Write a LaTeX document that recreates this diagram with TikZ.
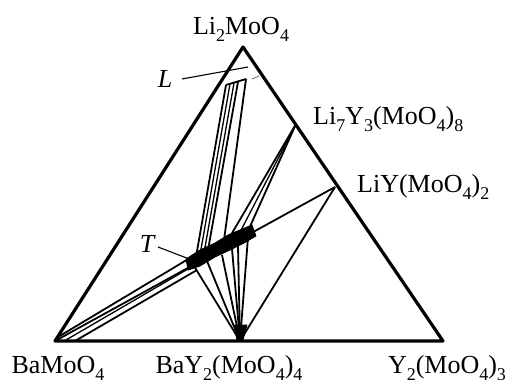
\documentclass[tikz,border=0pt]{standalone}
\usepackage{fontspec}
\setmainfont{Liberation Serif}
\newcommand\sbs[1]{\raisebox{-0.28em}{\fontsize{18}{20}\selectfont #1}}
\begin{document}
\begin{tikzpicture}[x=1pt,y=-1pt,
  edge/.style={line width=3.2pt,line join=round,line cap=round},
  tie/.style={line width=1.8pt},
  thin tie/.style={line width=1.3pt},
  leader/.style={line width=1.1pt},
  lbl/.style={font=\fontsize{26}{30}\selectfont, inner sep=0pt, anchor=base},
  blobfill/.style={fill=black, draw=black, line width=0.8pt, line join=round}]
\useasboundingbox (0,0) rectangle (519,383);
% main points
\coordinate (A) at (243,47);
\coordinate (B) at (55,341);
\coordinate (C) at (443,341);
\coordinate (D) at (240,341);
\coordinate (E) at (296,124);
\coordinate (F) at (335,187);
\coordinate (T) at (197,262);
% triangle
\draw[edge] (A) -- (B) -- (C) -- cycle;
% blob around T
\path[blobfill] (186,259) -- (200,250) -- (215,243) -- (228,235) -- (240,230) -- (252,225)
  -- (256,236) -- (244,243) -- (230,250) -- (215,257) -- (200,266) -- (188,270) -- cycle;
% blob at D
\path[blobfill] (234,325) -- (247,325) -- (243,340) -- (237,340) -- cycle;
% B - F line and bundle from BaMoO4
\draw[tie] (B) -- (F);
\coordinate (b1) at (58,337); \coordinate (t1) at (190,258);
\coordinate (b2) at (66,340); \coordinate (t2) at (193,266);
\coordinate (b3) at (75,341); \coordinate (t3) at (197,270);
\draw[tie] (b1) -- (t1);
\draw[thin tie] (b2) -- (t2);
\draw[tie] (b3) -- (t3);
% D - F line
\draw[tie] (D) -- (F);
% lines from Li7Y3(MoO4)8
\coordinate (e1) at (228,240); \coordinate (e2) at (238,236); \coordinate (e3) at (248,231);
\draw[tie] (E) -- (e1);
\draw[thin tie] (E) -- (e2);
\draw[tie] (E) -- (e3);
% narrow bundle towards Li2MoO4 (L region)
\coordinate (l1) at (226,85); \coordinate (m1) at (196,257);
\coordinate (l2) at (230,84); \coordinate (m2) at (200,255);
\coordinate (l3) at (234,83); \coordinate (m3) at (204,253);
\coordinate (l4) at (238,82); \coordinate (m4) at (208,250);
\coordinate (l5) at (246,79); \coordinate (m5) at (224,240);
\draw[tie] (l1) -- (l5);
\draw[tie] (l1) -- (m1);
\draw[thin tie] (l2) -- (m2);
\draw[thin tie] (l3) -- (m3);
\draw[tie] (l4) -- (m4);
\draw[tie] (l5) -- (m5);
% fan from BaY2(MoO4)4
\coordinate (f1) at (194,266);
\coordinate (f2) at (207,261);
\coordinate (f3) at (222,255);
\coordinate (f4) at (232,249);
\coordinate (f5) at (238,246);
\coordinate (f6) at (248,237);
\foreach \f in {f1,f2,f3,f4,f5,f6} \draw[tie] (D) -- (\f);
% small grey dash near top
\coordinate (g1) at (252,79); \coordinate (g2) at (259,76);
\draw[gray, line width=1pt] (g1) -- (g2);
% labels
\node[lbl] (lA) at (241,34) {Li\sbs{2}MoO\sbs{4}};
\node[lbl, anchor=base west] (lE) at (313,124) {Li\sbs{7}Y\sbs{3}(MoO\sbs{4})\sbs{8}};
\node[lbl, anchor=base west] (lF) at (357,192) {LiY(MoO\sbs{4})\sbs{2}};
\node[lbl] (lB) at (58,373) {BaMoO\sbs{4}};
\node[lbl] (lD) at (229,373) {BaY\sbs{2}(MoO\sbs{4})\sbs{4}};
\node[lbl] (lC) at (447,373) {Y\sbs{2}(MoO\sbs{4})\sbs{3}};
\node[lbl] (lL) at (165,87) {\itshape L};
\node[lbl] (lT) at (147,252) {\itshape T};
% leaders
\coordinate (Lend) at (248,67);
\draw[leader] (182,79) -- (Lend);
\draw[leader] (158,247) -- (T);
\end{tikzpicture}
\end{document}
